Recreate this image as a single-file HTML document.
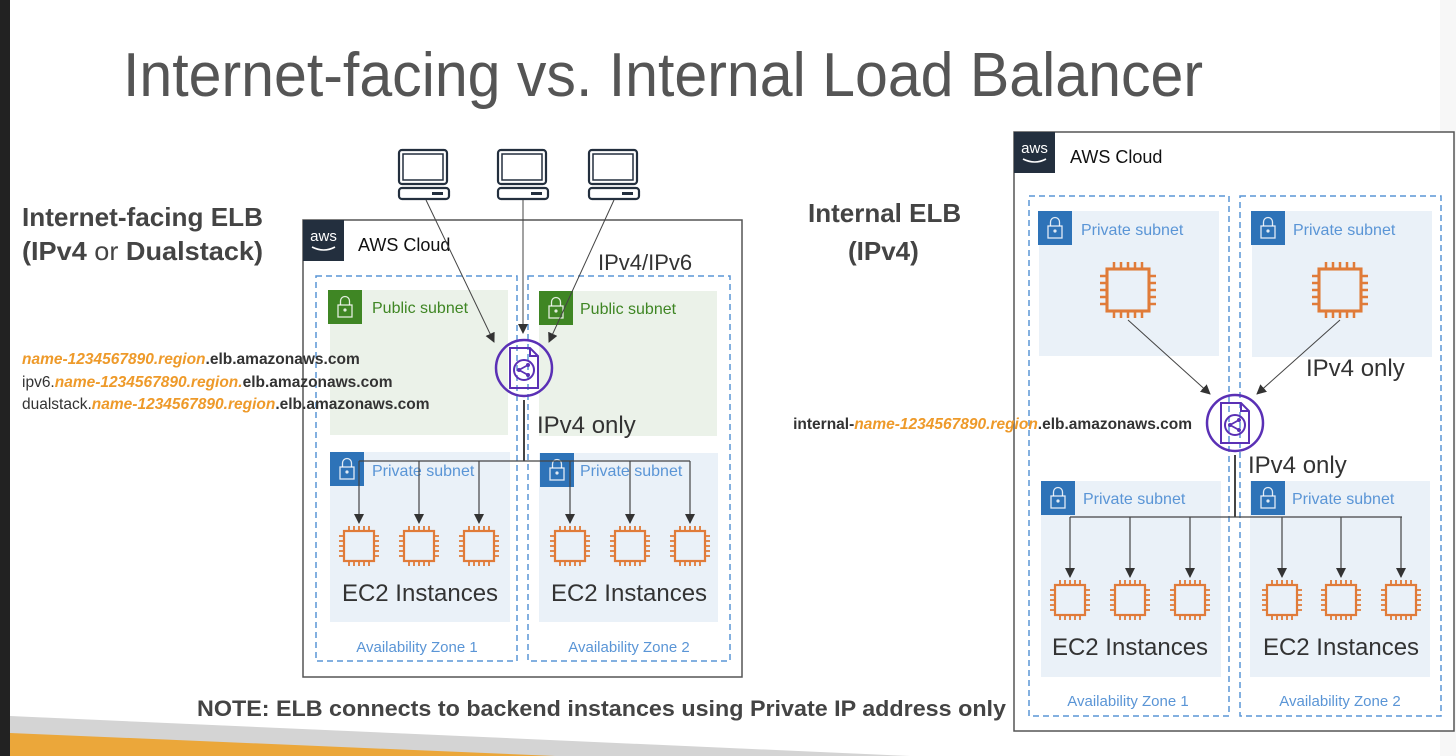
<!DOCTYPE html>
<html><head><meta charset="utf-8"><style>
html,body{margin:0;padding:0;background:#fff;width:1456px;height:756px;overflow:hidden}
svg text{font-family:"Liberation Sans",sans-serif}
</style></head><body>
<svg width="1456" height="756" viewBox="0 0 1456 756" xmlns="http://www.w3.org/2000/svg">
<defs>
<marker id="ar" markerWidth="10" markerHeight="10" refX="9" refY="5" orient="auto" markerUnits="userSpaceOnUse">
<path d="M0,0 L10,5 L0,10 z" fill="#333"/></marker>
<g id="chip">
<rect x="-15" y="-15" width="30" height="30" fill="none" stroke="#e07b39" stroke-width="2.2"/>
<path d="M-10,-15v-5M-5,-15v-5M0,-15v-5M5,-15v-5M10,-15v-5M-10,15v5M-5,15v5M0,15v5M5,15v5M10,15v5M-15,-10h-5M-15,-5h-5M-15,0h-5M-15,5h-5M-15,10h-5M15,-10h5M15,-5h5M15,0h5M15,5h5M15,10h5" stroke="#e07b39" stroke-width="1.8"/>
</g>
<g id="elb">
<circle r="28" fill="none" stroke="#5a30b5" stroke-width="2.5"/>
<path d="M-14,-20 h20 l8,8 v32 h-28z M6,-20 v8 h8" fill="none" stroke="#5a30b5" stroke-width="2"/>
<circle cx="0" cy="2" r="10" fill="none" stroke="#5a30b5" stroke-width="2"/>
<path d="M-5,2 L4,-3 M-5,2 L4,7" stroke="#5a30b5" stroke-width="1.8"/>
<circle cx="-5" cy="2" r="2" fill="#5a30b5"/><circle cx="4" cy="-3" r="2" fill="#5a30b5"/><circle cx="4" cy="7" r="2" fill="#5a30b5"/>
</g>
<g id="lock"><rect width="34" height="34"/>
<rect x="10" y="15" width="14" height="12" fill="none" stroke="#fff" stroke-width="1.3" opacity=".85"/>
<path d="M12.5,15v-4a4.5,4.5 0 0 1 9,0v4" fill="none" stroke="#fff" stroke-width="1.3" opacity=".85"/>
<circle cx="17" cy="20" r="1.6" fill="#fff" opacity=".85"/></g>
<g id="pc">
<rect x="2" y="2" width="48" height="34" rx="3" fill="none" stroke="#232f3e" stroke-width="2.2"/>
<rect x="6" y="6" width="40" height="26" fill="none" stroke="#232f3e" stroke-width="1.5"/>
<rect x="2" y="40" width="50" height="11" rx="3" fill="none" stroke="#232f3e" stroke-width="2.2"/>
<rect x="35" y="44" width="11" height="3" fill="#232f3e"/>
</g>
<g id="aws"><rect width="41" height="41" fill="#232f3e"/>
<text x="20.5" y="21" fill="#fff" font-size="15" text-anchor="middle">aws</text>
<path d="M9,27 q12,6 23,0" stroke="#fff" fill="none" stroke-width="1.6"/></g>
</defs>

<rect x="0" y="0" width="10" height="756" fill="#222"/>
<polygon points="10,716 1000,760 10,760" fill="#d4d4d4"/>
<polygon points="10,733 650,760 10,760" fill="#eba73a"/>
<rect x="1440" y="0" width="16" height="756" fill="#f2f2f2" opacity=".6"/>

<text x="123" y="96" font-size="62" fill="#555" textLength="1080" lengthAdjust="spacingAndGlyphs">Internet-facing vs. Internal Load Balancer</text>

<text x="22" y="226" font-size="26" font-weight="bold" fill="#444" textLength="241" lengthAdjust="spacingAndGlyphs">Internet-facing ELB</text>
<text x="22" y="260" font-size="26" fill="#444" textLength="241" lengthAdjust="spacingAndGlyphs"><tspan font-weight="bold">(IPv4</tspan> or <tspan font-weight="bold">Dualstack)</tspan></text>

<!-- left cloud -->
<rect x="303" y="220" width="439" height="457" fill="#fff" stroke="#555" stroke-width="1.5"/>
<use href="#aws" x="303" y="220"/>
<text x="358" y="251" font-size="18" fill="#111">AWS Cloud</text>
<rect x="316" y="276" width="201" height="385" fill="none" stroke="#5a95d6" stroke-width="1.5" stroke-dasharray="6,4"/>
<rect x="528" y="276" width="202" height="385" fill="none" stroke="#5a95d6" stroke-width="1.5" stroke-dasharray="6,4"/>
<text x="598" y="270" font-size="22" fill="#333">IPv4/IPv6</text>
<rect x="330" y="290" width="178" height="145" fill="#ebf2e9"/>
<rect x="539" y="291" width="178" height="145" fill="#ebf2e9"/>
<use href="#lock" x="328" y="290" fill="#3f8624"/>
<use href="#lock" x="539" y="291" fill="#3f8624"/>
<text x="372" y="313" font-size="16" fill="#3f8624">Public subnet</text>
<text x="580" y="314" font-size="16" fill="#3f8624">Public subnet</text>
<rect x="330" y="452" width="180" height="170" fill="#eaf1f8"/>
<rect x="539" y="453" width="179" height="169" fill="#eaf1f8"/>
<use href="#lock" x="330" y="452" fill="#2e73b8"/>
<use href="#lock" x="540" y="453" fill="#2e73b8"/>
<text x="372" y="476" font-size="16" fill="#5a95d6">Private subnet</text>
<text x="580" y="476" font-size="16" fill="#5a95d6">Private subnet</text>
<text x="537" y="433" font-size="24" fill="#333">IPv4 only</text>
<use href="#pc" x="397" y="148"/><use href="#pc" x="496" y="148"/><use href="#pc" x="587" y="148"/>
<g stroke="#444" stroke-width="1" fill="none" marker-end="url(#ar)">
<line x1="426" y1="200" x2="494" y2="342"/>
<line x1="523" y1="200" x2="523" y2="333"/>
<line x1="614" y1="200" x2="549" y2="342"/>
</g>
<use href="#elb" x="524" y="368"/>
<g stroke="#444" stroke-width="1.2" fill="none">
<line x1="524" y1="400" x2="524" y2="461" stroke-width="2"/>
<line x1="359" y1="461" x2="690" y2="461"/>
<g marker-end="url(#ar)"><line x1="359" y1="461" x2="359" y2="523"/><line x1="419" y1="461" x2="419" y2="523"/><line x1="479" y1="461" x2="479" y2="523"/><line x1="570" y1="461" x2="570" y2="523"/><line x1="630" y1="461" x2="630" y2="523"/><line x1="690" y1="461" x2="690" y2="523"/></g>
</g>
<use href="#chip" x="359" y="546"/><use href="#chip" x="419" y="546"/><use href="#chip" x="479" y="546"/>
<use href="#chip" x="570" y="546"/><use href="#chip" x="630" y="546"/><use href="#chip" x="690" y="546"/>
<text x="420" y="601" font-size="24" fill="#333" text-anchor="middle">EC2 Instances</text>
<text x="629" y="601" font-size="24" fill="#333" text-anchor="middle">EC2 Instances</text>
<text x="417" y="652" font-size="15" fill="#5a95d6" text-anchor="middle">Availability Zone 1</text>
<text x="629" y="652" font-size="15" fill="#5a95d6" text-anchor="middle">Availability Zone 2</text>

<g font-size="15.5">
<text x="22" y="364" fill="#333" font-weight="bold"><tspan fill="#ee9a2a" font-style="italic">name-1234567890.region</tspan>.elb.amazonaws.com</text>
<text x="22" y="387" fill="#333">ipv6.<tspan fill="#ee9a2a" font-style="italic" font-weight="bold">name-1234567890.region.</tspan><tspan font-weight="bold">elb.amazonaws.com</tspan></text>
<text x="22" y="409" fill="#333">dualstack.<tspan fill="#ee9a2a" font-style="italic" font-weight="bold">name-1234567890.region</tspan><tspan font-weight="bold">.elb.amazonaws.com</tspan></text>
</g>

<text x="808" y="222" font-size="26" font-weight="bold" fill="#444">Internal ELB</text>
<text x="848" y="260" font-size="26" font-weight="bold" fill="#444">(IPv4)</text>

<!-- right cloud -->
<rect x="1014" y="132" width="440" height="599" fill="#fff" stroke="#555" stroke-width="1.5"/>
<use href="#aws" x="1014" y="132"/>
<text x="1070" y="163" font-size="18" fill="#111">AWS Cloud</text>
<rect x="1029" y="196" width="200" height="520" fill="none" stroke="#5a95d6" stroke-width="1.5" stroke-dasharray="6,4"/>
<rect x="1240" y="196" width="201" height="520" fill="none" stroke="#5a95d6" stroke-width="1.5" stroke-dasharray="6,4"/>
<rect x="1039" y="211" width="180" height="145" fill="#eaf1f8"/>
<rect x="1252" y="211" width="180" height="146" fill="#eaf1f8"/>
<use href="#lock" x="1038" y="211" fill="#2e73b8"/>
<use href="#lock" x="1251" y="211" fill="#2e73b8"/>
<text x="1081" y="235" font-size="16" fill="#5a95d6">Private subnet</text>
<text x="1293" y="235" font-size="16" fill="#5a95d6">Private subnet</text>
<use href="#chip" transform="translate(1128,290) scale(1.4)"/>
<use href="#chip" transform="translate(1340,290) scale(1.4)"/>
<rect x="1041" y="481" width="180" height="196" fill="#eaf1f8"/>
<rect x="1250" y="481" width="180" height="196" fill="#eaf1f8"/>
<use href="#lock" x="1041" y="481" fill="#2e73b8"/>
<use href="#lock" x="1251" y="481" fill="#2e73b8"/>
<text x="1083" y="504" font-size="16" fill="#5a95d6">Private subnet</text>
<text x="1292" y="504" font-size="16" fill="#5a95d6">Private subnet</text>
<g stroke="#444" stroke-width="1" fill="none" marker-end="url(#ar)">
<line x1="1128" y1="320" x2="1210" y2="394"/>
<line x1="1340" y1="320" x2="1257" y2="394"/>
</g>
<text x="1306" y="376" font-size="24" fill="#333">IPv4 only</text>
<use href="#elb" x="1235" y="423"/>
<text x="1248" y="473" font-size="24" fill="#333">IPv4 only</text>
<g stroke="#444" stroke-width="1.2" fill="none">
<line x1="1235" y1="455" x2="1235" y2="517" stroke-width="2"/>
<line x1="1070" y1="517" x2="1402" y2="517"/>
<g marker-end="url(#ar)"><line x1="1070" y1="517" x2="1070" y2="577"/><line x1="1130" y1="517" x2="1130" y2="577"/><line x1="1190" y1="517" x2="1190" y2="577"/><line x1="1282" y1="517" x2="1282" y2="577"/><line x1="1341" y1="517" x2="1341" y2="577"/><line x1="1401" y1="517" x2="1401" y2="577"/></g>
</g>
<use href="#chip" x="1070" y="600"/><use href="#chip" x="1130" y="600"/><use href="#chip" x="1190" y="600"/>
<use href="#chip" x="1282" y="600"/><use href="#chip" x="1341" y="600"/><use href="#chip" x="1401" y="600"/>
<text x="1130" y="655" font-size="24" fill="#333" text-anchor="middle">EC2 Instances</text>
<text x="1341" y="655" font-size="24" fill="#333" text-anchor="middle">EC2 Instances</text>
<text x="1128" y="706" font-size="15" fill="#5a95d6" text-anchor="middle">Availability Zone 1</text>
<text x="1340" y="706" font-size="15" fill="#5a95d6" text-anchor="middle">Availability Zone 2</text>

<text x="1192" y="429" font-size="15.5" font-weight="bold" fill="#333" text-anchor="end">internal-<tspan fill="#ee9a2a" font-style="italic">name-1234567890.region</tspan>.elb.amazonaws.com</text>

<text x="197" y="716" font-size="22" font-weight="bold" fill="#444" textLength="809" lengthAdjust="spacingAndGlyphs">NOTE: ELB connects to backend instances using Private IP address only</text>
</svg>
</body></html>
